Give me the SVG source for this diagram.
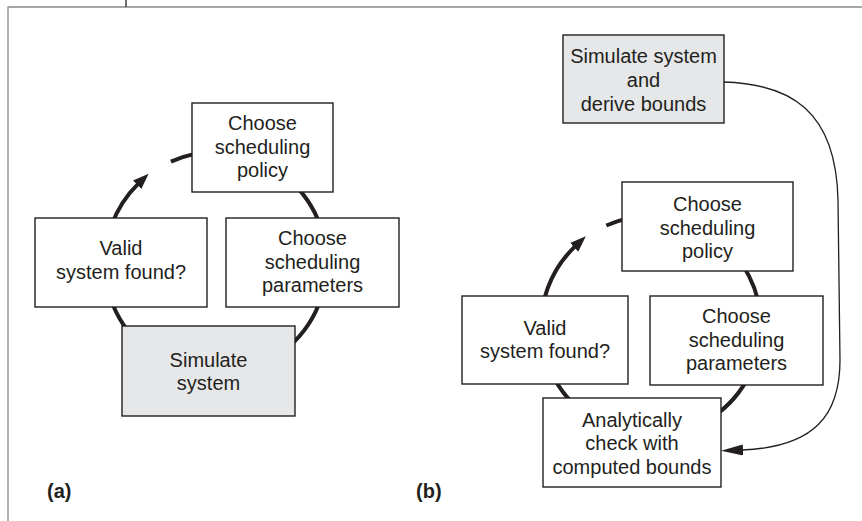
<svg xmlns="http://www.w3.org/2000/svg" width="862" height="521" viewBox="0 0 862 521">
<style>
.box{fill:#ffffff;stroke:#231f20;stroke-width:1.4}
.gray{fill:#e6e7e8}
.t{font-family:"Liberation Sans",Arial,sans-serif;font-size:20px;fill:#231f20;text-anchor:middle}
.lbl{font-family:"Liberation Sans",Arial,sans-serif;font-size:20px;font-weight:bold;fill:#231f20}
.cyc{fill:none;stroke:#231f20;stroke-width:4}
.thin{fill:none;stroke:#231f20;stroke-width:1.3}
</style>
<defs>
<marker id="ah" markerUnits="userSpaceOnUse" markerWidth="20" markerHeight="14" refX="2" refY="6" orient="auto">
<path d="M0,0 L16,6 L0,12 z" fill="#231f20"/>
</marker>
<marker id="ah2" markerUnits="userSpaceOnUse" markerWidth="24" markerHeight="12" refX="1" refY="5.5" orient="auto">
<path d="M0,0 L22,5.5 L0,11 z" fill="#231f20"/>
</marker>
</defs>
<rect width="862" height="521" fill="#ffffff"/>
<g id="frame">
<path d="M8,521 L8,7 L862,7" fill="none" stroke="#8a8a8a" stroke-width="1.3"/>
<line x1="126" y1="0" x2="126" y2="7" stroke="#231f20" stroke-width="1.3"/>
</g>
<g id="connectors">
<path class="cyc" d="M170.9,161.6 A111,111 0 1 1 138.6,183.4" marker-end="url(#ah)"/>
<path class="cyc" d="M606.3,225.5 A110,110 0 1 1 575.6,245.9" marker-end="url(#ah)"/>
<path class="thin" d="M724,82 C790,84 836,110 838,200 L840,360 C840,415 815,447 742,450" marker-end="url(#ah2)"/>
</g>
<g id="a-policy">
<rect class="box" x="192" y="103" width="141" height="89"/>
<text class="t" x="262.5" y="130">Choose</text>
<text class="t" x="262.5" y="153.5">scheduling</text>
<text class="t" x="262.5" y="177">policy</text>
</g>
<g id="a-valid">
<rect class="box" x="35" y="218" width="172" height="89"/>
<text class="t" x="121" y="255">Valid</text>
<text class="t" x="121" y="278.5">system found?</text>
</g>
<g id="a-params">
<rect class="box" x="226" y="218" width="173" height="89"/>
<text class="t" x="312.5" y="245">Choose</text>
<text class="t" x="312.5" y="268.5">scheduling</text>
<text class="t" x="312.5" y="292">parameters</text>
</g>
<g id="a-simulate">
<rect class="box gray" x="122" y="326" width="173" height="90"/>
<text class="t" x="208.5" y="367">Simulate</text>
<text class="t" x="208.5" y="390">system</text>
</g>
<g id="b-simulate">
<rect class="box gray" x="563" y="35" width="161" height="88"/>
<text class="t" x="643.5" y="63">Simulate system</text>
<text class="t" x="643.5" y="87">and</text>
<text class="t" x="643.5" y="111">derive bounds</text>
</g>
<g id="b-policy">
<rect class="box" x="622" y="182" width="171" height="89"/>
<text class="t" x="707.5" y="211">Choose</text>
<text class="t" x="707.5" y="234.5">scheduling</text>
<text class="t" x="707.5" y="258">policy</text>
</g>
<g id="b-valid">
<rect class="box" x="462" y="296" width="166" height="88"/>
<text class="t" x="545" y="334.5">Valid</text>
<text class="t" x="545" y="358">system found?</text>
</g>
<g id="b-params">
<rect class="box" x="650" y="296" width="173" height="89"/>
<text class="t" x="736.5" y="323">Choose</text>
<text class="t" x="736.5" y="346.5">scheduling</text>
<text class="t" x="736.5" y="370">parameters</text>
</g>
<g id="b-analytic">
<rect class="box" x="543" y="398" width="178" height="89"/>
<text class="t" x="632" y="427">Analytically</text>
<text class="t" x="632" y="450">check with</text>
<text class="t" x="632" y="473.5">computed bounds</text>
</g>
<g id="labels">
<text class="lbl" x="47" y="498">(a)</text>
<text class="lbl" x="416" y="498">(b)</text>
</g>
</svg>
